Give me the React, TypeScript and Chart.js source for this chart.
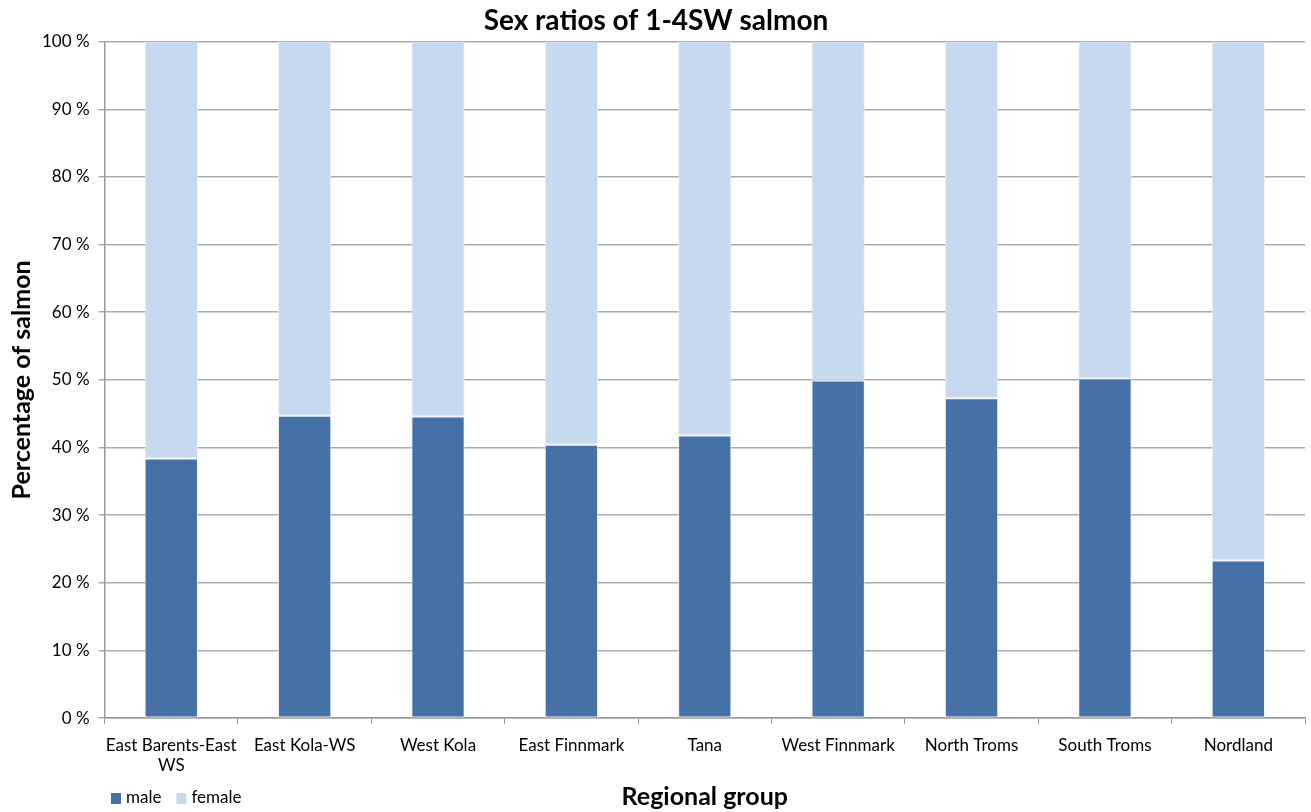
import React, { useEffect, useRef } from "react";
import { Chart, registerables } from "chart.js";

Chart.register(...registerables);

const categories: (string | string[])[] = [
  ["East Barents-East", "WS"],
  "East Kola-WS",
  "West Kola",
  "East Finnmark",
  "Tana",
  "West Finnmark",
  "North Troms",
  "South Troms",
  "Nordland",
];
const maleValues = [38.4, 44.7, 44.6, 40.4, 41.8, 49.9, 47.3, 50.2, 23.3];
const femaleValues = [61.6, 55.3, 55.4, 59.6, 58.2, 50.1, 52.7, 49.8, 76.7];
const seriesNames = ["male", "female"];
const titleText = "Sex ratios of 1-4SW salmon";
const xTitle = "Regional group";
const yTitle = "Percentage of salmon";

const FONT = "Lato, 'Noto Sans', sans-serif";

const bottomLegend = {
  id: "bottomLegend",
  afterDraw(chart: any) {
    const ctx = chart.ctx;
    ctx.save();
    ctx.font = `17px ${FONT}`;
    ctx.textBaseline = "middle";
    ctx.textAlign = "left";
    let x = 111;
    const y = 798;
    chart.data.datasets.forEach((ds: any) => {
      ctx.fillStyle = ds.backgroundColor;
      ctx.fillRect(x, y - 5, 10, 11);
      ctx.fillStyle = "#000";
      ctx.fillText(ds.label, x + 15, y);
      x += 15 + ctx.measureText(ds.label).width + 15;
    });
    ctx.restore();
  },
};

export default function App() {
  const ref = useRef<HTMLCanvasElement>(null);
  useEffect(() => {
    document.body.style.margin = "0";
    const chart = new Chart(ref.current!, {
      type: "bar",
      data: {
        labels: categories,
        datasets: [
          {
            label: seriesNames[0],
            data: maleValues,
            backgroundColor: "#4571A6",
            borderColor: "rgba(235,242,250,0.9)",
            borderWidth: 1,
            borderSkipped: false,
          },
          {
            label: seriesNames[1],
            data: femaleValues,
            backgroundColor: "#C6D9F0",
            borderColor: "rgba(235,242,250,0.9)",
            borderWidth: 1,
            borderSkipped: false,
          },
        ],
      },
      options: {
        animation: false,
        responsive: false,
        maintainAspectRatio: false,
        layout: { padding: { top: 0, right: 6, bottom: 0, left: 7 } },
        datasets: { bar: { barPercentage: 0.4, categoryPercentage: 1 } },
        plugins: {
          legend: { display: false },
          tooltip: { enabled: false },
          title: {
            display: true,
            text: titleText,
            color: "#000",
            font: { family: FONT, size: 28, weight: "bold" },
            padding: { top: 4, bottom: 4 },
          },
        },
        scales: {
          x: {
            stacked: true,
            grid: {
              display: true,
              drawOnChartArea: false,
              drawTicks: true,
              tickLength: 6,
              color: "#999",
              offset: true,
            },
            border: { display: true, color: "#999", width: 1.5 },
            ticks: {
              color: "#000",
              font: { family: FONT, size: 17 },
              maxRotation: 0,
              autoSkip: false,
              padding: 11,
            },
            title: {
              display: true,
              text: xTitle,
              color: "#000",
              font: { family: FONT, size: 25, weight: "bold" },
              padding: { top: -5, bottom: 0 },
            },
          },
          y: {
            stacked: true,
            min: 0,
            max: 100,
            grid: {
              color: "#aaa",
              lineWidth: 1.5,
              tickLength: 6,
            },
            border: { display: true, color: "#999", width: 1.5 },
            ticks: {
              stepSize: 10,
              color: "#000",
              font: { family: FONT, size: 17 },
              padding: 9,
              callback: (v: any) => `${v} %`,
            },
            title: {
              display: true,
              text: yTitle,
              color: "#000",
              font: { family: FONT, size: 25, weight: "bold" },
              padding: { top: 0, bottom: -4 },
            },
          },
        },
      },
      plugins: [bottomLegend],
    });
    return () => chart.destroy();
  }, []);
  return (
    <div style={{ width: 1311, height: 812, background: "#fff" }}>
      <canvas ref={ref} width={1311} height={812} />
    </div>
  );
}
